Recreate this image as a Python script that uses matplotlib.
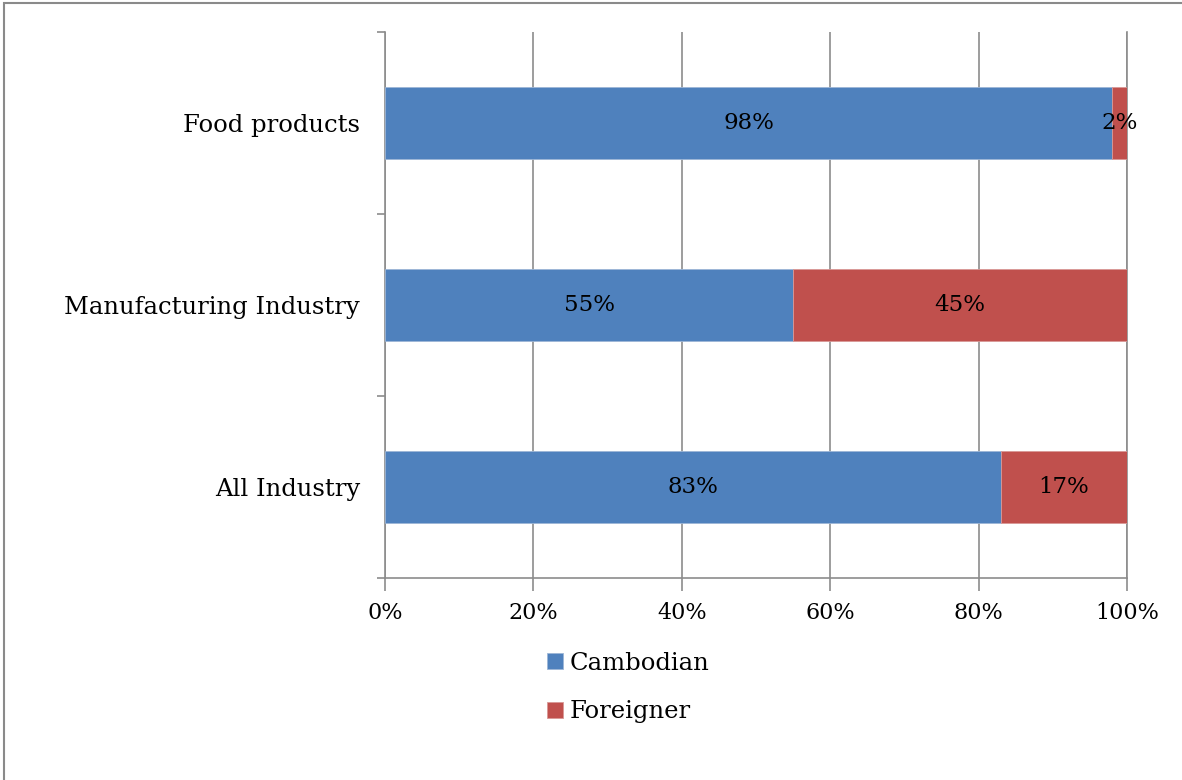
import matplotlib.pyplot as plt
from matplotlib.patches import Rectangle

# Share of workers by nationality in each sector (percent)
sectors = ['All Industry', 'Manufacturing Industry', 'Food products']
cambodian = [83, 55, 98]
foreigner = [17, 45, 2]
xticks = [0, 20, 40, 60, 80, 100]

blue = '#4F81BD'
red = '#C0504D'
gray = '#8C8C8C'

plt.rcParams['font.family'] = 'DejaVu Serif'

fig = plt.figure(figsize=(11.82, 7.8), dpi=100)
ax = fig.add_axes([385 / 1182, 1 - 578 / 780, 742 / 1182, 546 / 780])

# outer frame round the chart area
fig.patches.append(Rectangle((4 / 1182, -0.05), 1.1, 0.05 + 1 - 3 / 780,
                             transform=fig.transFigure, fill=False,
                             edgecolor='#8A8A8A', linewidth=1.5))

ypos = range(len(sectors))
b1 = ax.barh(ypos, cambodian, height=0.4, color=blue, edgecolor='#9DB6D6',
             linewidth=0.6, label='Cambodian', zorder=3)
b2 = ax.barh(ypos, foreigner, left=cambodian, height=0.4, color=red,
             edgecolor='#D89896', linewidth=0.6, label='Foreigner', zorder=3)

for bars in (b1, b2):
    for bar in bars:
        w = bar.get_width()
        ax.text(bar.get_x() + w / 2, bar.get_y() + bar.get_height() / 2,
                f'{w:.0f}%', ha='center', va='center', fontsize=16.5, zorder=4)

ax.set_xlim(0, 100)
ax.set_ylim(-0.5, 2.5)
ax.set_xticks(xticks)
ax.set_xticklabels([f'{t}%' for t in xticks], fontsize=16)
ax.set_yticks(list(ypos))
ax.set_yticklabels(sectors, fontsize=17.5)
ax.set_yticks([-0.5, 0.5, 1.5, 2.5], minor=True)

ax.tick_params(axis='y', which='major', length=0, pad=18)
ax.tick_params(axis='y', which='minor', length=6, width=1.2, color=gray)
ax.tick_params(axis='x', length=9, width=1.2, color=gray, pad=8)

ax.grid(axis='x', color=gray, linewidth=1.2, zorder=0)
ax.spines['top'].set_visible(False)
for side in ('left', 'bottom', 'right'):
    ax.spines[side].set_color(gray)
    ax.spines[side].set_linewidth(1.2)

fig.legend(handles=[b1, b2], loc='upper left',
           bbox_to_anchor=(525 / 1182, 1 - 630 / 780), frameon=False,
           fontsize=17.5, handlelength=0.65, handleheight=0.65,
           handletextpad=0.3, labelspacing=1.05)

fig.savefig('out.png', dpi=100)
